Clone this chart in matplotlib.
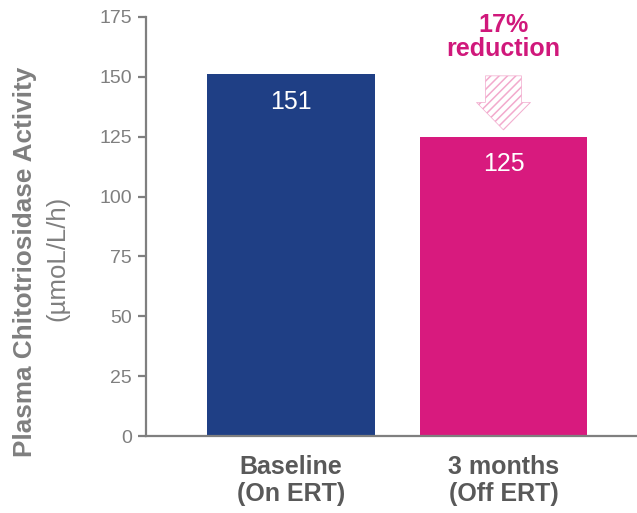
import matplotlib
matplotlib.use("Agg")
import matplotlib.pyplot as plt
from matplotlib.patches import FancyArrow

plt.rcParams['font.family'] = ['Liberation Sans', 'DejaVu Sans']
plt.rcParams['hatch.linewidth'] = 1.1

# chitotriosidase values per time point
groups = ["Baseline\n(On ERT)", "3 months\n(Off ERT)"]
values = [151, 125]
bar_colors = ["#1f3f85", "#d81a7e"]
yticks = [0, 25, 50, 75, 100, 125, 150, 175]
change_label = "17%\nreduction"

pink = "#d0187b"
grey_axis = "#7f7f7f"
grey_dark = "#595959"

fig = plt.figure(figsize=(6.37, 5.13), dpi=100)
ax = fig.add_axes([0.229, 0.150, 0.771, 0.817])

x = list(range(len(values)))
bars = ax.bar(x, values, width=0.79, color=bar_colors, zorder=2)

# value labels inside the bars, just under the top
for xi, v in zip(x, values):
    ax.text(xi, v - 6.5, str(v), ha='center', va='top', color='white', fontsize=18)

ax.set_xlim(-0.682, 1.628)
ax.set_ylim(0, 175)
ax.set_yticks(yticks)
ax.set_xticks(x)
ax.set_xticklabels(groups, fontsize=18, fontweight='bold', color=grey_dark, linespacing=1.15)

for side in ['top', 'right']:
    ax.spines[side].set_visible(False)
for side in ['left', 'bottom']:
    ax.spines[side].set_color(grey_axis)
    ax.spines[side].set_linewidth(1.6)

ax.tick_params(axis='y', direction='out', length=6, width=1.6, color=grey_axis,
               labelcolor=grey_axis, labelsize=14, pad=4)
ax.tick_params(axis='x', length=0, pad=14)

# hatched arrow between the two bar heights
top = 150.4
tip = values[1] + 2.8
arrow = FancyArrow(1.0, top, 0, tip - top, width=0.17, head_width=0.254,
                   head_length=11.5, length_includes_head=True,
                   facecolor='none', edgecolor='#f2aacd', linewidth=0.5,
                   hatch='////', zorder=3)
ax.add_patch(arrow)

ax.text(1.0, 1.01, change_label, transform=ax.get_xaxis_transform(), ha='center', va='top',
        color=pink, fontsize=18, fontweight='bold', linespacing=1.0, clip_on=False)

# two-line y label, bold title and regular unit
fig.text(25 / 637, 1 - 262 / 513, "Plasma Chitotriosidase Activity", rotation=90,
         ha='center', va='center', fontsize=18.8, fontweight='bold', color=grey_axis)
fig.text(57 / 637, 1 - 258 / 513, "(\u00b5moL/L/h)", rotation=90,
         ha='center', va='center', fontsize=18.5, color=grey_axis)

fig.savefig("out.png", dpi=100)
